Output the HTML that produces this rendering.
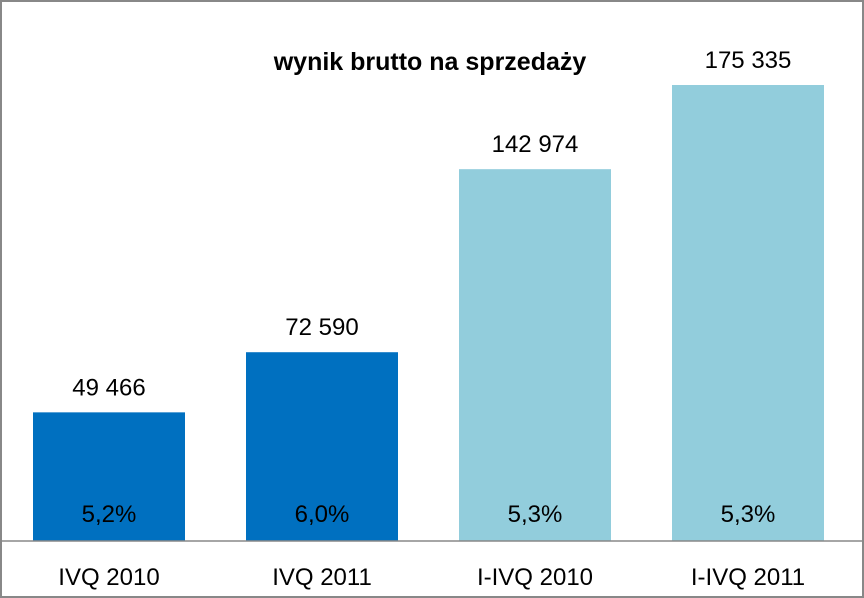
<!DOCTYPE html>
<html><head><meta charset="utf-8"><style>
html,body{margin:0;padding:0;background:#fff}
svg{display:block;font-family:"Liberation Sans",sans-serif}
</style></head><body>
<svg width="864" height="598">
<rect x="1" y="1" width="862" height="596" fill="#fff" stroke="#888" stroke-width="2"/>
<text x="430" y="70" text-anchor="middle" font-size="25" font-weight="bold" fill="#000">wynik brutto na sprzedaży</text>
<g id="bars"></g>
<line x1="2" y1="541" x2="862" y2="541" stroke="#888" stroke-width="1.5"/>
</svg>
<script>
const categories=["IVQ 2010","IVQ 2011","I-IVQ 2010","I-IVQ 2011"];
const values=[49466,72590,142974,175335];
const labels=["49 466","72 590","142 974","175 335"];
const margins=["5,2%","6,0%","5,3%","5,3%"];
const colors=["#0070C0","#0070C0","#92CDDC","#92CDDC"];
const base=541, scale=456/175335, x0=33, step=213, bw=152;
const y=v=>base-v*scale;
const g=document.getElementById('bars');
const ns="http://www.w3.org/2000/svg";
categories.forEach((c,i)=>{
  const x=x0+i*step;
  const r=document.createElementNS(ns,'rect');
  r.setAttribute('x',x);r.setAttribute('y',y(values[i]));
  r.setAttribute('width',bw);r.setAttribute('height',base-y(values[i]));
  r.setAttribute('fill',colors[i]);
  
  
  g.appendChild(r);
  const mk=(t,yy,name)=>{const e=document.createElementNS(ns,'text');e.textContent=t;e.setAttribute('x',x+bw/2);e.setAttribute('y',yy);e.setAttribute('text-anchor','middle');e.setAttribute('font-size','24');e.setAttribute('fill','#000');
    
    
    g.appendChild(e);};
  mk(labels[i],y(values[i])-17,'value-label-'+(i+1));
  mk(margins[i],522,'margin-label-'+(i+1));
  mk(c,585,'category-label-'+(i+1));
});
</script>
</body></html>
